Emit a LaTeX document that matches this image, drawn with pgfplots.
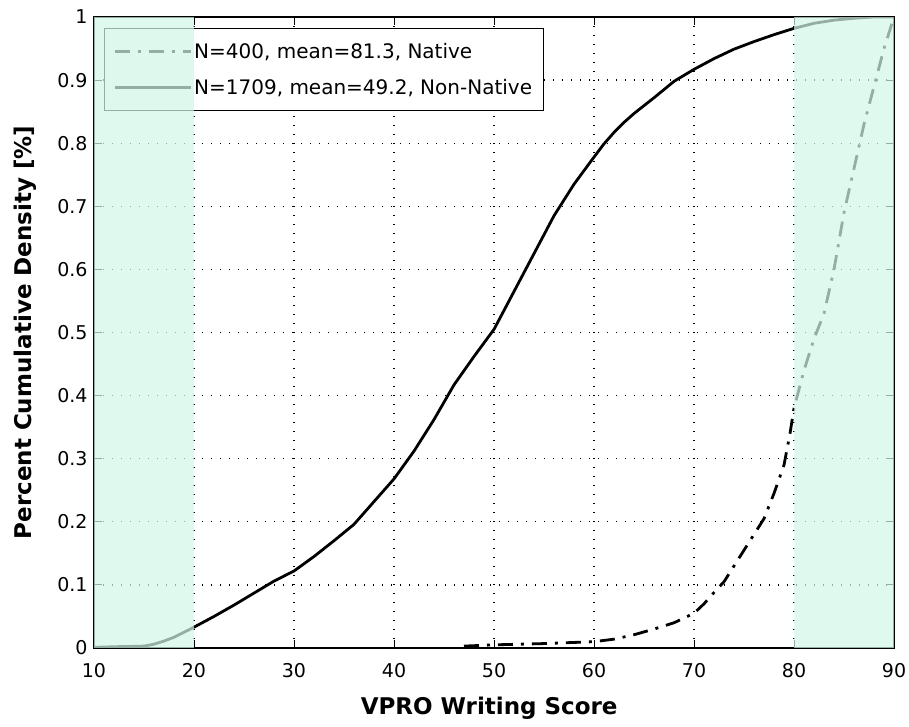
\documentclass[border=0pt]{standalone}
\usepackage{fontspec}
\setmainfont{DejaVu Sans}
\usepackage{pgfplots}
\pgfplotsset{compat=1.18}
\definecolor{shadec}{RGB}{211,246,232}
\pgfplotsset{
  layers/mylayers/.define layer set={axis background,axis grid,axis ticks,pre main,main,axis descriptions,shade,axis lines,axis tick labels,axis foreground}{},
}
\begin{document}
\begin{tikzpicture}
\begin{axis}[
  name=ax,
  set layers=mylayers,
  width=800pt, height=631pt, scale only axis,
  xmin=10, xmax=90, ymin=0, ymax=1,
  xtick={10,20,...,90},
  ytick={0,0.1,...,1},
  yticklabels={0,0.1,0.2,0.3,0.4,0.5,0.6,0.7,0.8,0.9,1},
  tick align=inside, tick pos=both,
  major tick length=8pt,
  tick style={black, line width=0.9pt},
  axis line style={black, line width=1.2pt},
  grid=major,
  grid style={black, line width=1.3pt, dash pattern=on 1.3pt off 7.7pt},
  ticklabel style={font=\fontsize{19}{21}\selectfont},
  xticklabel style={yshift=-12pt},
  yticklabel style={xshift=-3pt},
  /pgf/number format/assume math mode=true,
  xlabel={\textbf{VPRO Writing Score}},
  ylabel={\textbf{Percent Cumulative Density [\%]}},
  label style={font=\fontsize{23}{26}\selectfont},
  xlabel style={at={(axis description cs:0.494,-0.095)}, anchor=center},
  ylabel style={at={(axis description cs:-0.086,0.5)}, anchor=center},
  legend cell align=left,
  legend style={at={(rel axis cs:0,1)}, anchor=north west, xshift=10pt, yshift=-11pt,
    draw=black, line width=0.8pt, font=\fontsize{20}{22}\selectfont,
    row sep=15pt, inner xsep=9pt, inner ysep=13pt},
  legend image code/.code={\draw[#1, line width=2pt] (0pt,0pt) -- (70pt,0pt); \path (0pt,0pt) -- (76pt,0pt);},
]
\addplot[black, line width=2.8pt, dash pattern=on 15pt off 8pt on 3pt off 8pt] coordinates {
(47,0.003)(50,0.005)(55,0.007)(60,0.010)(62,0.014)(64,0.021)(66,0.030)(68,0.040)(70,0.055)(71,0.070)(72,0.088)(73,0.105)(74,0.130)(75,0.155)(76,0.180)(77,0.205)(78,0.245)(79,0.290)(79.6,0.340)(80,0.380)(81,0.440)(82,0.490)(83,0.530)(84,0.600)(85,0.690)(86,0.760)(87,0.830)(88,0.890)(89,0.950)(89.5,0.975)(90,1.000)
};
\addlegendentry{N=400, mean=81.3, Native}
\addplot[black, line width=2.8pt] coordinates {
(10,0.001)(12,0.002)(15,0.003)(16,0.006)(17,0.011)(18,0.017)(19,0.025)(20,0.033)(22,0.050)(24,0.068)(26,0.087)(28,0.106)(30,0.122)(32,0.145)(34,0.170)(36,0.196)(38,0.232)(40,0.268)(42,0.312)(44,0.362)(46,0.417)(48,0.462)(50,0.505)(52,0.565)(54,0.625)(56,0.685)(58,0.735)(60,0.778)(61,0.799)(62,0.817)(63,0.833)(64,0.847)(66,0.872)(68,0.898)(70,0.917)(72,0.934)(74,0.949)(76,0.961)(78,0.972)(80,0.982)(82,0.990)(84,0.995)(86,0.998)(88,1.000)(90,1.000)
};
\addlegendentry{N=1709, mean=49.2, Non-Native}
\addplot[on layer=shade, draw=none, fill=shadec, fill opacity=0.71, forget plot] coordinates {(10,1)(20,1)} \closedcycle;
\addplot[on layer=shade, draw=none, fill=shadec, fill opacity=0.71, forget plot] coordinates {(80,1)(90,1)} \closedcycle;
\end{axis}
\pgfresetboundingbox
\path[use as bounding box] ([xshift=-94pt,yshift=-79pt]ax.south west) rectangle ([xshift=15pt,yshift=17pt]ax.north east);
\end{tikzpicture}
\end{document}
